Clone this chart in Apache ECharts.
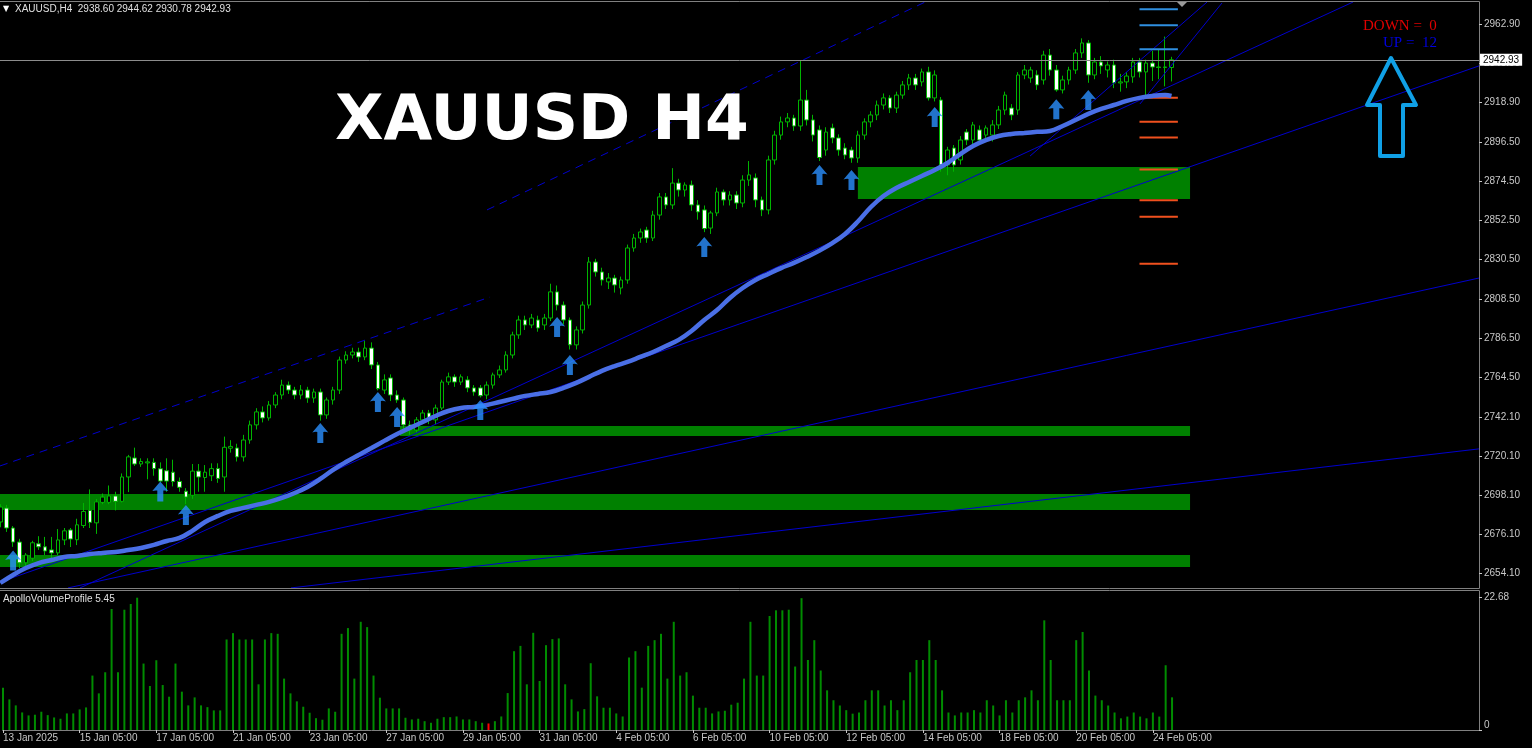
<!DOCTYPE html>
<html>
<head>
<meta charset="utf-8">
<script src="https://cdn.jsdelivr.net/npm/echarts@6/dist/echarts.min.js"></script>
<style>
html,body{margin:0;padding:0;background:#000;overflow:hidden;}
#chart{width:1532px;height:748px;}
</style>
</head>
<body>
<div id="chart"></div>
<script>
// ---- XAUUSD H4, 13 Jan 2025 05:00 .. 24 Feb 2025 17:00 ----
const symbolName = 'XAUUSD';
const timeframe = 'H4';

// time-axis labels, one every 12 bars
const tickBars = [0, 12, 24, 36, 48, 60, 72, 84, 96, 108, 120, 132, 144, 156, 168, 180];
const tickLabels = ['13 Jan 2025', '15 Jan 05:00', '17 Jan 05:00', '21 Jan 05:00', '23 Jan 05:00',
  '27 Jan 05:00', '29 Jan 05:00', '31 Jan 05:00', '4 Feb 05:00', '6 Feb 05:00', '10 Feb 05:00',
  '12 Feb 05:00', '14 Feb 05:00', '18 Feb 05:00', '20 Feb 05:00', '24 Feb 05:00'];

// price scale labels
const priceTicks = [2654.10, 2676.10, 2698.10, 2720.10, 2742.10, 2764.50, 2786.50, 2808.50,
  2830.50, 2852.50, 2874.50, 2896.50, 2918.90, 2940.90, 2962.90];

// candles: [open, close, low, high]
const candles = [
  [2683.0,2691.4,2680.0,2693.0],[2690.8,2679.6,2677.4,2692.6],[2679.6,2671.7,2669.0,2680.7],[2671.7,2660.0,2657.0,2673.5],
  [2660.0,2664.4,2657.0,2665.5],[2662.6,2671.3,2661.0,2672.4],[2670.7,2669.0,2667.3,2675.0],[2669.0,2666.7,2664.4,2674.6],
  [2667.3,2665.6,2660.4,2674.6],[2665.6,2672.9,2664.4,2679.0],[2672.9,2678.0,2670.0,2679.6],[2678.5,2673.4,2668.9,2679.6],
  [2673.0,2681.4,2670.0,2684.8],[2681.0,2688.9,2679.6,2693.7],[2689.5,2682.8,2679.6,2701.3],[2682.5,2694.3,2676.3,2695.9],
  [2694.0,2697.0,2693.0,2699.0],[2694.0,2697.6,2693.0,2703.5],[2697.6,2694.6,2689.5,2700.0],[2694.6,2708.3,2694.0,2710.3],
  [2708.3,2719.6,2699.8,2720.7],[2719.0,2715.6,2714.5,2724.8],[2715.6,2717.0,2714.0,2718.8],[2716.2,2716.8,2707.0,2718.8],
  [2716.5,2713.0,2709.0,2718.8],[2712.9,2706.0,2705.5,2716.5],[2711.8,2706.0,2700.0,2718.8],[2711.0,2705.8,2703.0,2718.0],
  [2705.8,2702.5,2700.0,2708.0],[2700.3,2697.0,2693.0,2702.0],[2698.0,2711.6,2696.0,2715.6],[2711.6,2708.3,2700.0,2715.6],
  [2708.0,2711.0,2700.0,2715.0],[2709.0,2713.0,2706.0,2716.0],[2713.0,2707.5,2705.0,2716.0],[2708.3,2725.0,2700.0,2731.0],
  [2724.5,2725.5,2722.0,2729.0],[2724.6,2719.6,2717.0,2727.0],[2719.6,2729.1,2717.0,2732.0],[2729.1,2737.6,2727.0,2740.0],
  [2737.6,2744.9,2735.0,2747.0],[2744.9,2741.5,2739.0,2748.0],[2741.5,2748.8,2740.0,2751.0],[2748.8,2754.4,2747.0,2756.0],
  [2754.4,2760.0,2752.0,2763.0],[2760.0,2757.2,2755.0,2762.0],[2757.2,2754.4,2752.0,2759.0],[2754.4,2757.2,2752.0,2760.0],
  [2757.2,2752.7,2750.0,2759.0],[2752.7,2756.1,2750.0,2758.0],[2756.1,2743.2,2740.0,2758.0],[2743.2,2751.6,2741.0,2753.0],
  [2751.6,2757.2,2749.0,2759.0],[2757.2,2774.1,2755.0,2776.0],[2774.1,2776.9,2772.0,2779.0],[2776.9,2778.6,2775.0,2781.0],
  [2778.6,2775.8,2773.0,2781.0],[2775.8,2780.8,2774.0,2785.0],[2780.8,2771.3,2769.0,2784.0],[2771.3,2758.0,2757.0,2773.0],
  [2757.2,2762.9,2755.0,2766.0],[2764.0,2754.4,2751.0,2766.0],[2754.4,2751.6,2750.0,2757.0],[2751.6,2737.6,2735.0,2753.0],
  [2737.6,2734.7,2732.0,2740.0],[2734.7,2740.4,2733.0,2742.0],[2740.4,2744.3,2738.0,2746.0],[2744.3,2740.4,2738.0,2746.0],
  [2740.4,2747.1,2738.0,2749.0],[2747.1,2761.7,2746.0,2763.0],[2761.7,2764.6,2760.0,2767.0],[2764.6,2761.7,2759.0,2766.0],
  [2761.7,2764.6,2760.0,2766.0],[2762.9,2758.4,2756.0,2765.0],[2758.4,2756.1,2754.0,2760.0],[2758.4,2754.0,2753.0,2760.0],
  [2754.4,2760.0,2752.0,2762.0],[2760.0,2765.7,2758.0,2767.0],[2765.7,2768.5,2764.0,2771.0],[2768.5,2776.9,2767.0,2779.0],
  [2776.9,2788.2,2775.0,2790.0],[2788.2,2796.6,2786.0,2799.0],[2796.6,2793.8,2791.0,2799.0],[2793.8,2797.7,2792.0,2800.0],
  [2796.6,2792.1,2790.0,2799.0],[2793.8,2797.7,2791.0,2800.0],[2797.7,2812.4,2796.0,2817.0],[2812.4,2805.0,2802.0,2816.0],
  [2805.0,2796.6,2794.0,2807.0],[2796.6,2782.6,2780.0,2798.0],[2782.6,2791.0,2780.0,2793.0],[2791.0,2805.0,2789.0,2807.0],
  [2805.0,2829.2,2803.0,2832.0],[2829.2,2823.6,2821.0,2831.0],[2823.6,2819.1,2816.0,2826.0],[2818.0,2820.2,2814.0,2823.0],
  [2820.2,2816.3,2812.0,2822.0],[2814.6,2819.1,2811.0,2821.0],[2819.1,2837.1,2817.0,2839.0],[2837.1,2842.7,2835.0,2845.0],
  [2842.7,2846.1,2840.0,2848.0],[2847.2,2842.7,2840.0,2849.0],[2842.7,2855.6,2841.0,2858.0],[2855.6,2865.8,2853.0,2868.0],
  [2865.8,2861.3,2859.0,2868.0],[2861.3,2873.6,2859.0,2882.0],[2873.6,2869.7,2866.0,2876.0],[2869.7,2872.5,2866.0,2874.0],
  [2872.5,2861.3,2858.0,2875.0],[2861.3,2857.4,2853.0,2864.0],[2858.5,2848.0,2846.0,2861.0],[2848.3,2856.8,2845.0,2858.0],
  [2856.8,2868.6,2855.0,2871.0],[2868.6,2864.1,2861.0,2870.0],[2864.1,2866.9,2861.0,2869.0],[2866.9,2862.4,2859.0,2869.0],
  [2862.4,2875.3,2860.0,2878.0],[2875.3,2878.2,2872.0,2886.0],[2876.5,2864.1,2860.0,2879.0],[2864.1,2858.5,2855.0,2866.0],
  [2858.5,2886.6,2856.0,2889.0],[2886.6,2900.6,2884.0,2903.0],[2900.6,2908.0,2898.0,2911.0],[2908.0,2910.2,2905.0,2913.0],
  [2910.2,2905.7,2903.0,2912.0],[2905.7,2920.3,2903.0,2942.5],[2920.3,2909.1,2906.0,2926.0],[2909.1,2900.6,2897.0,2912.0],
  [2903.5,2888.0,2886.0,2906.0],[2892.2,2902.3,2889.0,2905.0],[2904.6,2899.0,2896.0,2907.0],[2899.0,2892.2,2889.0,2901.0],
  [2893.3,2889.4,2887.0,2896.0],[2892.2,2887.7,2885.0,2894.0],[2887.7,2900.6,2885.0,2903.0],[2900.6,2908.0,2898.0,2910.0],
  [2908.0,2911.9,2905.0,2914.0],[2911.9,2917.5,2909.0,2920.0],[2917.5,2921.5,2915.0,2924.0],[2921.5,2915.8,2913.0,2923.0],
  [2915.8,2923.1,2913.0,2925.0],[2923.1,2928.8,2921.0,2931.0],[2928.8,2932.7,2926.0,2935.0],[2932.7,2928.8,2926.0,2935.0],
  [2930.5,2936.1,2928.0,2938.0],[2936.1,2921.5,2920.0,2939.0],[2921.5,2934.4,2919.5,2937.0],[2920.3,2883.8,2880.0,2922.0],
  [2883.8,2892.2,2878.0,2894.0],[2893.3,2883.8,2880.0,2895.0],[2886.6,2897.8,2884.0,2900.0],[2902.3,2897.8,2895.0,2904.0],
  [2897.8,2906.3,2895.0,2908.0],[2903.5,2897.8,2895.0,2906.0],[2900.6,2904.6,2898.0,2906.0],[2900.6,2906.3,2897.0,2909.0],
  [2906.3,2914.7,2904.0,2917.0],[2914.7,2923.1,2912.0,2925.0],[2915.8,2911.9,2909.0,2918.0],[2914.7,2934.4,2912.0,2936.0],
  [2934.4,2937.2,2932.0,2940.0],[2932.7,2937.2,2930.0,2939.0],[2934.4,2928.8,2926.0,2937.0],[2931.6,2945.6,2929.0,2948.0],
  [2945.6,2937.2,2934.0,2949.0],[2937.2,2926.0,2925.0,2940.0],[2926.0,2931.6,2924.0,2934.0],[2931.6,2937.2,2929.0,2939.0],
  [2937.2,2946.8,2935.0,2949.0],[2946.8,2952.4,2944.0,2955.0],[2952.4,2934.4,2930.0,2954.0],[2934.4,2941.7,2932.0,2944.0],
  [2941.7,2939.5,2935.0,2945.0],[2937.2,2940.0,2933.0,2942.0],[2940.0,2929.9,2927.0,2943.0],[2929.9,2930.5,2925.0,2935.0],
  [2930.5,2933.8,2927.0,2936.0],[2933.3,2941.7,2930.0,2944.0],[2941.7,2936.1,2933.0,2944.0],[2936.1,2941.1,2922.0,2943.0],
  [2941.1,2938.9,2931.0,2948.0],[2938.9,2938.6,2932.0,2949.0],[2938.6,2938.9,2928.0,2956.0],[2938.60,2942.93,2930.78,2944.62]
];

// ApolloVolumeProfile histogram, one value per bar
const volumes = [
  7.26,5.25,4.22,3.01,2.50,2.62,3.13,2.55,2.15,1.93, 2.84,2.84,3.53,3.87,9.33,6.28,9.90,20.74,9.90,20.62,
  21.60,22.68,11.39,7.54,11.96,7.71,5.71,11.39,6.57,4.22, 5.59,4.22,3.92,3.36,3.36,15.52,16.61,15.52,15.52,15.52,
  7.83,15.52,16.61,16.49,8.81,6.28,4.91,3.99,2.96,2.03, 1.76,3.70,3.13,16.49,17.47,8.81,18.55,17.64,9.33,5.54,
  3.70,3.70,3.70,
  2.10,1.81,1.93,1.51,1.24,1.93,2.20,2.20,2.32,1.81, 1.81,1.51,1.24,1.12,1.51,2.32,6.33,13.51,14.42,7.83,
  16.66,8.40,14.54,15.58,15.70,7.83,5.25,3.18,3.58,11.45, 5.77,3.82,3.82,2.84,2.32,12.43,13.51,7.26,14.42,15.40,
  16.49,8.81,18.55,9.33,9.90,5.89,3.82,3.82,2.84,3.18, 3.30,4.34,4.68,8.81,18.55,9.33,9.33,19.54,20.52,20.52,
  20.62,10.88,
  22.6,12.0,15.4,10.2,6.8,5.1,4.2,3.4,2.8,3.0, 5.1,6.8,6.8,4.2,5.1,3.4,5.1,9.9,12.0,12.0,
  15.4,12.0,6.8,3.0,2.5,3.0,3.0,3.4,3.0,5.1, 4.2,2.5,5.1,3.0,5.1,5.6,6.8,5.1,18.8,12.0,
  5.1,5.1,5.1,15.4,16.8,10.2,5.9,5.1,4.2,3.0, 2.0,2.3,3.0,2.3,2.0,3.0,2.3,11.1,5.6
];
const volumeMax = 22.68;
const redVolumeBars = [76];

// moving average: [bar, value]
const maPoints = [
  [0,2648.7],[2,2653.2],[4,2657.1],[6,2659.9],[8,2661.6],[10,2663.3],[12,2663.9],[14,2665.0],[16,2665.6],[18,2666.1],
  [20,2667.2],[22,2668.4],[24,2670.1],[26,2672.3],[28,2674.0],[30,2678.0],[32,2683.0],[34,2686.4],[36,2689.2],[38,2690.9],
  [40,2692.6],[42,2694.3],[44,2696.5],[46,2699.3],[48,2702.7],[50,2707.2],[52,2712.3],[54,2716.7],[56,2720.7],[58,2724.6],
  [60,2728.6],[62,2732.5],[64,2735.9],[66,2739.2],[68,2742.6],[70,2745.4],[72,2747.1],[74,2747.7],[76,2748.8],[78,2750.5],
  [80,2752.2],[82,2753.9],[84,2755.0],[86,2756.1],[88,2758.4],[90,2761.2],[92,2764.6],[94,2768.0],[96,2770.7],[98,2773.0],
  [100,2775.8],[102,2778.6],[104,2782.0],[106,2785.4],[108,2790.4],[110,2796.6],[112,2802.2],[114,2809.0],[116,2814.6],[118,2819.1],
  [120,2822.5],[122,2825.8],[124,2828.7],[126,2832.0],[128,2835.6],[130,2839.8],[132,2845.0],[134,2852.0],[136,2860.0],[138,2866.3],
  [140,2870.8],[142,2874.2],[144,2877.6],[146,2880.9],[148,2884.9],[150,2889.9],[152,2894.5],[154,2897.8],[156,2900.1],[158,2901.2],
  [160,2901.8],[162,2902.4],[164,2902.9],[166,2905.7],[168,2909.1],[170,2912.5],[172,2915.3],[174,2917.5],[176,2919.8],[178,2921.5],
  [180,2922.6],[182,2923.1],[183,2922.6]
];

// buy-signal arrows: [bar, price of arrow tip]
const signalArrows = [
  [2,2667.0],[25,2705.7],[29,2692.6],[50,2738.7],[59,2756.1],[62,2747.7],[75,2751.6],[87,2798.3],
  [89,2776.9],[110,2843.3],[128,2883.8],[133,2881.0],[146,2916.4],[165,2920.7],[170,2926.0]
];

// support zones: [fromBar, toBar, upper price, lower price]
const zones = [
  [134.0, 185.9, 2882.6, 2864.6],
  [62.45, 185.9, 2737.0, 2731.4],
  [-0.05, 185.9, 2698.7, 2689.7],
  [-0.05, 185.9, 2664.4, 2657.7]
];

// short projected levels on the right: [fromBar, toBar, price]
const upperLevels = [[178, 184, 2971.4], [178, 184, 2962.3], [178, 184, 2948.8]];
const lowerLevels = [[178, 184, 2921.6], [178, 184, 2908.1], [178, 184, 2899.3], [178, 184, 2881.3],
  [178, 184, 2863.9], [178, 184, 2854.7], [178, 184, 2828.2]];

// trend lines: [[bar, price], [bar, price]]
const solidLines = [
  [[-0.05, 2649.2], [231.05, 2939.5]],
  [[10.58, 2645.9], [231.05, 2820.2]],
  [[45.42, 2645.9], [231.05, 2724.1]],
  [[12.45, 2645.9], [211.36, 2975.4]],
  [[160.9, 2888.8], [188.55, 2975.4]],
  [[178.08, 2918.1], [190.9, 2974.9]]
];
const dashedLines = [
  [[-0.05, 2714.5], [76.52, 2809.5]],
  [[76.05, 2858.5], [144.5, 2975.4]]
];

const signalCounts = { down: 0, up: 12 };

// ---------------------------------------------------------------
const FONT = '"Liberation Sans", Arial, sans-serif';
const AXIS_TEXT = '#c8c8c8';
const FRAME = '#808080';
const LINE_BLUE = '#0000cd';
const X_MIN = -0.047, X_MAX = 231.05;
const last = candles[candles.length - 1];

const series = [];

// candlesticks (also carries the zones and the bid line)
series.push({
  type: 'candlestick',
  xAxisIndex: 0, yAxisIndex: 0,
  data: candles.map((c, i) => [i, c[0], c[1], c[2], c[3]]),
  encode: { x: 0, y: [1, 2, 3, 4] },
  barWidth: 4,
  z: 3,
  silent: true,
  itemStyle: {
    color: '#000000', color0: '#ffffff',
    borderColor: '#00b400', borderColor0: '#00b400',
    borderWidth: 1
  },
  markArea: {
    silent: true,
    itemStyle: { color: '#008000' },
    data: zones.map(z => [{ xAxis: z[0], yAxis: z[2] }, { xAxis: z[1], yAxis: z[3] }])
  },
  markLine: {
    silent: true,
    symbol: 'none',
    animation: false,
    data: [{
      yAxis: last[1],
      lineStyle: { color: '#8c8c8c', width: 1, type: 'solid' },
      label: {
        show: true, position: 'end', distance: 1,
        formatter: last[1].toFixed(2),
        backgroundColor: '#ffffff', color: '#000000',
        fontFamily: FONT, fontSize: 10, padding: [1, 3, 1, 3]
      }
    }]
  }
});

// trend lines
solidLines.forEach(l => series.push({
  type: 'line', xAxisIndex: 0, yAxisIndex: 0, data: l, showSymbol: false, silent: true,
  clip: true, z: 4, lineStyle: { color: LINE_BLUE, width: 1 }, animation: false
}));
dashedLines.forEach(l => series.push({
  type: 'line', xAxisIndex: 0, yAxisIndex: 0, data: l, showSymbol: false, silent: true,
  clip: true, z: 4, lineStyle: { color: LINE_BLUE, width: 1, type: [8, 6] }, animation: false
}));

// projected levels
upperLevels.forEach(l => series.push({
  type: 'line', xAxisIndex: 0, yAxisIndex: 0, data: [[l[0], l[2]], [l[1], l[2]]],
  showSymbol: false, silent: true, z: 5, lineStyle: { color: '#2f8fe0', width: 2 }, animation: false
}));
lowerLevels.forEach(l => series.push({
  type: 'line', xAxisIndex: 0, yAxisIndex: 0, data: [[l[0], l[2]], [l[1], l[2]]],
  showSymbol: false, silent: true, z: 5, lineStyle: { color: '#f0501e', width: 2 }, animation: false
}));

// moving average
series.push({
  type: 'line', xAxisIndex: 0, yAxisIndex: 0, data: maPoints, showSymbol: false, silent: true,
  smooth: 0.4, z: 6, lineStyle: { color: '#4a6fe6', width: 4.5 }, animation: false
});

// signal arrows
series.push({
  type: 'scatter', xAxisIndex: 0, yAxisIndex: 0, data: signalArrows, silent: true, z: 7,
  symbol: 'path://M8,0 L16,9.5 Q13,8.5 11,9 L11,20 L5,20 L5,9 Q3,8.5 0,9.5 Z',
  symbolSize: [16, 20], symbolOffset: [0, 10],
  itemStyle: { color: '#2b90ff' }, animation: false
});

// volume histogram
series.push({
  type: 'bar', xAxisIndex: 1, yAxisIndex: 1,
  data: volumes.map((v, i) => ({
    value: [i, v],
    itemStyle: { color: redVolumeBars.includes(i) ? '#ff0000' : '#008c00' }
  })),
  barWidth: 2, silent: true, animation: false
});

// panel frame lines
const frameLine = (x1, y1, x2, y2) => ({ type: 'line', silent: true, z: 50,
  shape: { x1, y1, x2, y2 }, style: { stroke: FRAME, lineWidth: 1 } });

const option = {
  backgroundColor: '#000000',
  animation: false,
  grid: [
    { left: 0, top: 2, width: 1479, height: 586 },
    { left: 0, top: 591, width: 1479, height: 139 }
  ],
  xAxis: [
    { gridIndex: 0, type: 'value', min: X_MIN, max: X_MAX, show: false, axisLine: { onZero: false } },
    {
      gridIndex: 1, type: 'value', min: X_MIN, max: X_MAX, position: 'bottom',
      axisLine: { show: true, onZero: false, lineStyle: { color: FRAME } },
      axisTick: { show: true, customValues: tickBars, length: 3, lineStyle: { color: AXIS_TEXT } },
      axisLabel: {
        customValues: tickBars, formatter: v => tickLabels[tickBars.indexOf(Math.round(v))] || '',
        align: 'left', color: AXIS_TEXT, fontSize: 10, fontFamily: FONT, margin: 3
      },
      splitLine: { show: false }
    }
  ],
  yAxis: [
    {
      gridIndex: 0, type: 'value', position: 'right', min: 2645.86, max: 2975.44,
      axisLine: { show: true, onZero: false, lineStyle: { color: FRAME } },
      axisTick: { show: true, customValues: priceTicks, length: 3, lineStyle: { color: AXIS_TEXT } },
      axisLabel: { customValues: priceTicks, formatter: v => v.toFixed(2), color: AXIS_TEXT, fontSize: 10, fontFamily: FONT, margin: 5 },
      splitLine: { show: false }
    },
    {
      gridIndex: 1, type: 'value', position: 'right', min: 0, max: 23.83,
      axisLine: { show: true, onZero: false, lineStyle: { color: FRAME } },
      axisTick: { show: true, customValues: [volumeMax], length: 3, lineStyle: { color: AXIS_TEXT } },
      axisLabel: { customValues: [volumeMax], formatter: v => v.toFixed(2), color: AXIS_TEXT, fontSize: 10, fontFamily: FONT, margin: 5 },
      splitLine: { show: false }
    },
    {
      gridIndex: 1, type: 'value', position: 'right', min: 0, max: 23.83,
      axisLine: { show: false, onZero: false },
      axisTick: { show: true, customValues: [0], length: 3, lineStyle: { color: AXIS_TEXT } },
      axisLabel: { customValues: [0], formatter: v => String(v), verticalAlign: 'bottom', color: AXIS_TEXT, fontSize: 10, fontFamily: FONT, margin: 5 },
      splitLine: { show: false }
    }
  ],
  series: series,
  graphic: [
    frameLine(0, 1.5, 1479.5, 1.5),
    frameLine(0, 588.5, 1479.5, 588.5),
    frameLine(0, 590.5, 1479.5, 590.5),
    { type: 'text', x: 3, y: 9, style: { text: '\u25BC', fill: '#ffffff', font: '8px "DejaVu Sans"', verticalAlign: 'middle' } },
    { type: 'text', x: 15, y: 9, style: {
        text: symbolName + ',' + timeframe + '  ' + [last[0], last[3], last[2], last[1]].map(v => v.toFixed(2)).join(' '),
        fill: '#e0e0e0', font: '10px ' + FONT, verticalAlign: 'middle' } },
    { type: 'text', x: 3, y: 599, style: { text: 'ApolloVolumeProfile 5.45', fill: '#e0e0e0', font: '10px ' + FONT, verticalAlign: 'middle' } },
    { type: 'text', x: 335, y: 123, z: 100, style: { text: symbolName + ' ' + timeframe, fill: '#ffffff', font: 'bold 63px "DejaVu Sans"', verticalAlign: 'middle' } },
    { type: 'text', x: 1363, y: 26, z: 100, style: { text: 'DOWN =  ' + signalCounts.down, fill: '#e00000', font: '15px "Liberation Serif"', verticalAlign: 'middle' } },
    { type: 'text', x: 1383, y: 43, z: 100, style: { text: 'UP =  ' + signalCounts.up, fill: '#0000e0', font: '15px "Liberation Serif"', verticalAlign: 'middle' } },
    { type: 'polygon', z: 100, shape: { points: [[1391, 58], [1416, 105], [1403, 105], [1403, 156], [1380, 156], [1380, 105], [1367, 105]] },
      style: { fill: 'none', stroke: '#10a0e6', lineWidth: 4, lineJoin: 'round' } },
    { type: 'polygon', z: 100, shape: { points: [[1177, 2], [1187, 2], [1182, 7]] }, style: { fill: '#9a9a9a' } }
  ]
};

const chart = echarts.init(document.getElementById('chart'), null, { renderer: 'canvas', devicePixelRatio: 1 });
chart.setOption(option);
</script>
</body>
</html>
